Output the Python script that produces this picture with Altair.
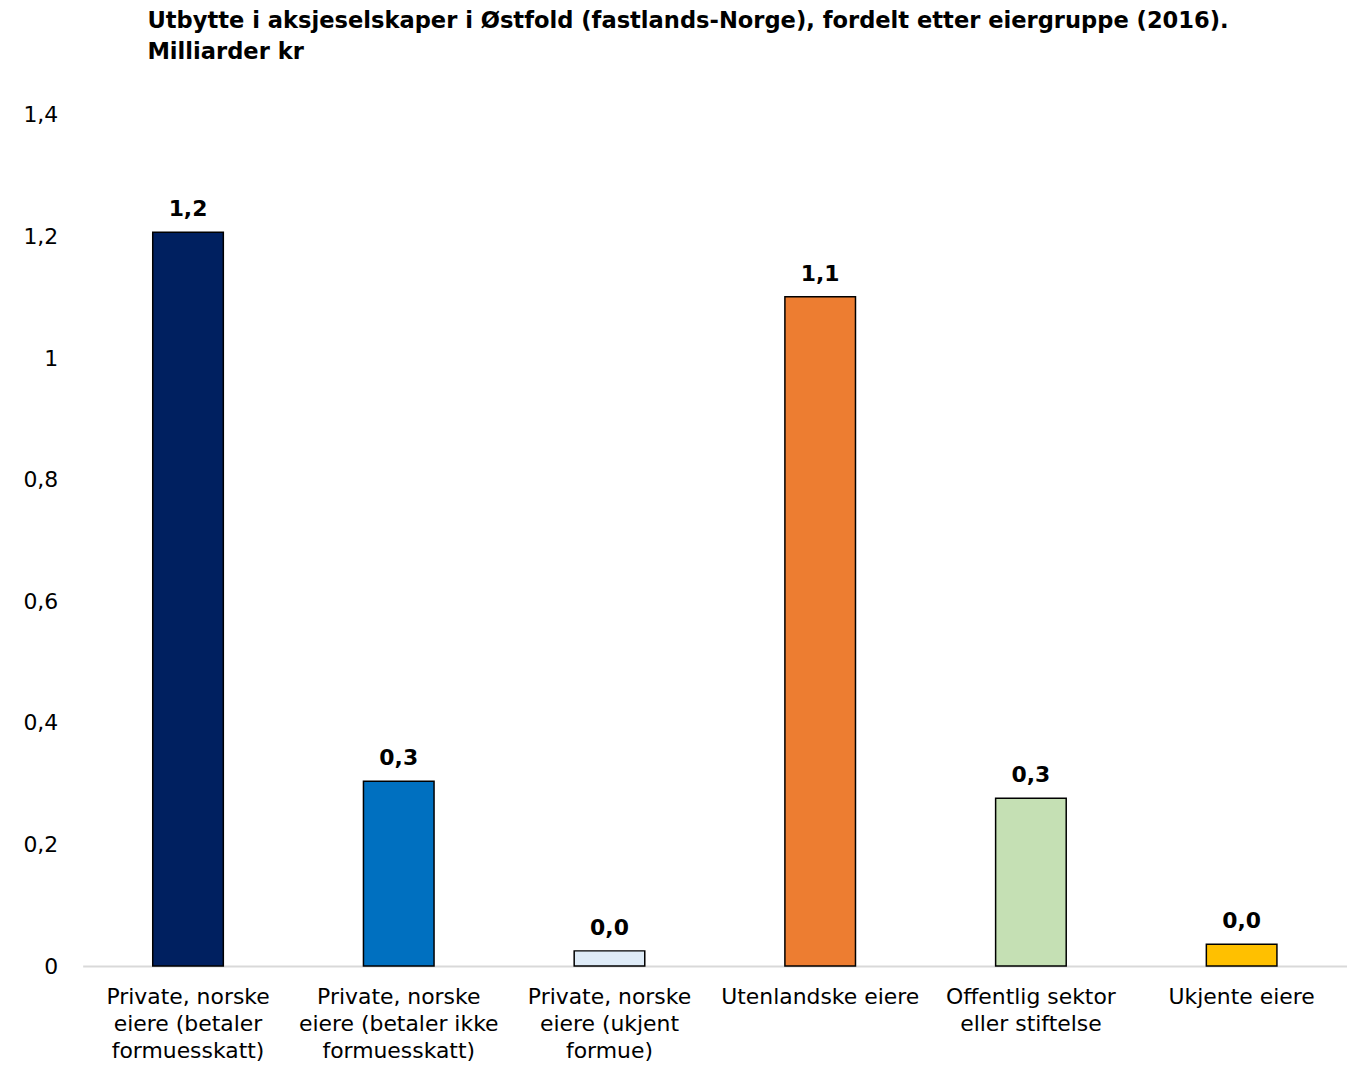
import altair as alt
import pandas as pd

categories = [
    "Private, norske\neiere (betaler\nformuesskatt)",
    "Private, norske\neiere (betaler ikke\nformuesskatt)",
    "Private, norske\neiere (ukjent\nformue)",
    "Utenlandske eiere",
    "Offentlig sektor\neller stiftelse",
    "Ukjente eiere",
]
values = [1.207, 0.304, 0.025, 1.101, 0.276, 0.036]
colors = ["#002060", "#0070C0", "#DEEBF7", "#ED7D31", "#C5E0B4", "#FFC000"]

df = pd.DataFrame({"cat": categories, "val": values, "color": colors})
df["lab"] = [f"{v:.1f}".replace(".", ",") for v in values]

FONT = "DejaVu Sans"

x = alt.X(
    "cat:N",
    sort=categories,
    title=None,
    scale=alt.Scale(paddingInner=0.665, paddingOuter=0.3325),
    axis=alt.Axis(
        labelAngle=0,
        labelExpr="split(datum.label, '\\n')",
        labelFont=FONT,
        labelFontSize=22,
        labelColor="#000000",
        labelPadding=21,
        labelLimit=400,
        labelLineHeight=27,
        ticks=False,
        domainColor="#D9D9D9",
        domainWidth=2,
        grid=False,
    ),
)
y = alt.Y(
    "val:Q",
    title=None,
    scale=alt.Scale(domain=[0, 1.4], nice=False),
    axis=alt.Axis(
        values=[0, 0.2, 0.4, 0.6, 0.8, 1.0, 1.2, 1.4],
        labelExpr="replace(format(datum.value, '~g'), '.', ',')",
        labelFont=FONT,
        labelFontSize=22,
        labelColor="#000000",
        labelPadding=25,
        ticks=False,
        domain=False,
        grid=False,
    ),
)

bars = alt.Chart(df).mark_bar(stroke="#000000", strokeWidth=1.5).encode(
    x=x,
    y=y,
    color=alt.Color("color:N", scale=None),
)
labels = alt.Chart(df).mark_text(
    font=FONT, fontSize=22, fontWeight="bold", baseline="bottom", dy=-11, color="#000000"
).encode(
    x=alt.X("cat:N", sort=categories),
    y="val:Q",
    text="lab:N",
)

chart = (
    alt.layer(bars, labels)
    .properties(
        width=1270,
        height=855,
        view=alt.ViewBackground(stroke="transparent", strokeWidth=0),
        autosize=alt.AutoSizeParams(type="none"),
        padding={"left": 75, "top": 105, "right": 0, "bottom": 96},
        title=alt.TitleParams(
            text=[
                "Utbytte i aksjeselskaper i Østfold (fastlands-Norge), fordelt etter eiergruppe (2016).",
                "Milliarder kr",
            ],
            anchor="start",
            frame="group",
            font=FONT,
            fontSize=22.7,
            fontWeight="bold",
            color="#000000",
            dx=65,
            offset=40,
            lineHeight=32,
        ),
    )
    .configure_view(stroke="transparent", strokeWidth=0)
    .configure(background="#FFFFFF")
)

chart.save("out.html", embed_options={"renderer": "svg", "actions": False})
